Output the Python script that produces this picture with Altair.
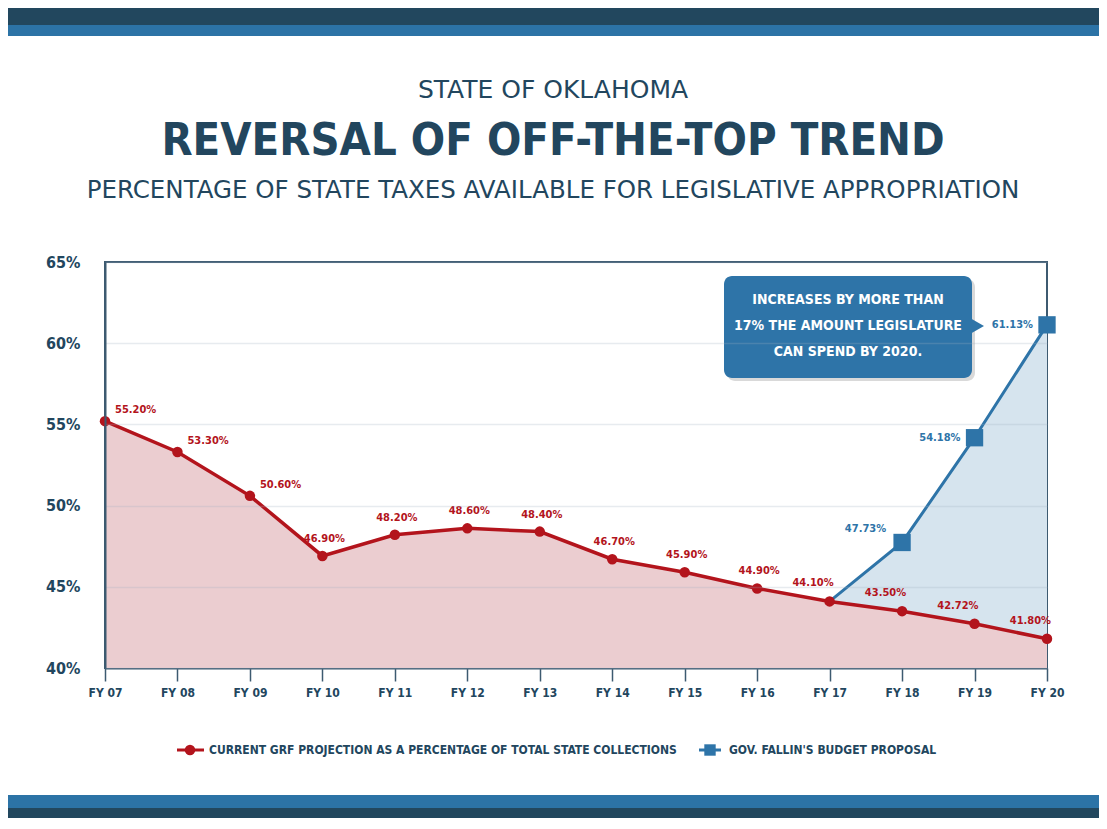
import altair as alt
import pandas as pd

# ---- data ----
years = ["FY 07", "FY 08", "FY 09", "FY 10", "FY 11", "FY 12", "FY 13",
         "FY 14", "FY 15", "FY 16", "FY 17", "FY 18", "FY 19", "FY 20"]
grf = [55.20, 53.30, 50.60, 46.90, 48.20, 48.60, 48.40,
       46.70, 45.90, 44.90, 44.10, 43.50, 42.72, 41.80]
gov_years = ["FY 17", "FY 18", "FY 19", "FY 20"]
gov = [44.10, 47.73, 54.18, 61.13]
y_ticks = [40, 45, 50, 55, 60, 65]

NAVY = "#22465e"
RED = "#b3141c"
BLUE = "#2e74a8"
PINK = "#ebcdd0"
LIGHTBLUE = "#d6e4ee"
COND = "DejaVu Sans Condensed, Liberation Sans Narrow, sans-serif"

W, H = 942, 406

df_grf = pd.DataFrame({"year": years, "value": grf, "idx": list(range(len(years)))})
df_grf["label"] = [f"{v:.2f}%" for v in grf]
df_gov = pd.DataFrame({"year": gov_years, "value": gov})
df_gov["label"] = [f"{v:.2f}%" for v in gov]
one = pd.DataFrame({"a": [0]})

xs = alt.Scale(type="point", domain=years, padding=0)
ys = alt.Scale(domain=[40, 65], nice=False, zero=False)

X = alt.X("year:N", scale=xs, sort=years,
          axis=alt.Axis(title=None, labelAngle=0, labelFont=COND, labelFontWeight="bold",
                        labelFontSize=12, labelColor=NAVY, labelPadding=6,
                        domainColor="#3d5a70", domainWidth=2, tickColor="#3d5a70",
                        tickSize=13, tickWidth=1.5, grid=False))
Y = alt.Y("value:Q", scale=ys,
          axis=alt.Axis(title=None, values=y_ticks, labelExpr="datum.value + '%'",
                        labelFont=COND, labelFontWeight="bold", labelFontSize=16,
                        labelColor=NAVY, labelPadding=25, ticks=False,
                        domainColor="#3d5a70", domainWidth=2,
                        grid=True, gridColor="#9fb0c0", gridOpacity=0.25, gridWidth=1.5,
                        zindex=1))

base_gov = alt.Chart(df_gov)
base_grf = alt.Chart(df_grf)

blue_area = base_gov.mark_area(color=LIGHTBLUE, opacity=1).encode(x=X, y=Y, y2=alt.datum(40))
red_area = base_grf.mark_area(color=PINK, opacity=1).encode(x=X, y=Y, y2=alt.datum(40))
blue_line = base_gov.mark_line(color=BLUE, strokeWidth=3).encode(x=X, y=Y)
red_line = base_grf.mark_line(color=RED, strokeWidth=3.5).encode(x=X, y=Y)
red_pts = base_grf.mark_circle(color=RED, size=110, opacity=1).encode(x=X, y=Y)
blue_pts = base_gov.transform_filter("datum.year != 'FY 17'").mark_square(
    color=BLUE, size=300, opacity=1).encode(x=X, y=Y)

lab_style = dict(font=COND, fontWeight="bold", fontSize=11, color=RED)
red_lab1 = base_grf.transform_filter("datum.idx <= 2").mark_text(
    align="left", dx=10, dy=-11, **lab_style).encode(x=X, y=Y, text="label:N")
red_lab2 = base_grf.transform_filter("datum.idx > 2 && datum.idx < 10").mark_text(
    align="center", dx=2, dy=-17, **lab_style).encode(x=X, y=Y, text="label:N")
red_lab3 = base_grf.transform_filter("datum.idx >= 10").mark_text(
    align="right", dx=4, dy=-18, **lab_style).encode(x=X, y=Y, text="label:N")
blab_style = dict(font=COND, fontWeight="bold", fontSize=11, color=BLUE, align="right")
blue_lab1 = base_gov.transform_filter("datum.year == 'FY 18'").mark_text(
    dx=-16, dy=-13, **blab_style).encode(x=X, y=Y, text="label:N")
blue_lab2 = base_gov.transform_filter("datum.year == 'FY 19' || datum.year == 'FY 20'").mark_text(
    dx=-14, dy=0, **blab_style).encode(x=X, y=Y, text="label:N")

# ---- decorations (pixel positions relative to plot area) ----
def band(x1, x2, y1, y2, color):
    return alt.Chart(one).mark_rect(color=color).encode(
        x=alt.value(x1), x2=alt.value(x2), y=alt.value(y1), y2=alt.value(y2))

bands = [
    band(-97, 994, -254, -237, "#22475e"),
    band(-97, 994, -237, -226, "#2c73a6"),
    band(-97, 994, 533, 546, "#2c73a6"),
    band(-97, 994, 546, 560, "#22475e"),
]

def txt(x, y, s, **kw):
    return alt.Chart(one).mark_text(text=s, **kw).encode(x=alt.value(x), y=alt.value(y))

t1 = txt(448, -172, "STATE OF OKLAHOMA", font="DejaVu Sans", fontSize=25, color=NAVY,
         align="center", baseline="middle")
t2 = txt(448, -121, "REVERSAL OF OFF-THE-TOP TREND", font=COND, fontWeight="bold",
         fontSize=45, color=NAVY, align="center", baseline="middle")
t3 = txt(448, -71, "PERCENTAGE OF STATE TAXES AVAILABLE FOR LEGISLATIVE APPROPRIATION",
         font="DejaVu Sans", fontSize=24.5, color=NAVY, align="center", baseline="middle")

shadow = alt.Chart(one).mark_rect(color="#000000", opacity=0.15, cornerRadius=8).encode(
    x=alt.value(622), x2=alt.value(870), y=alt.value(17), y2=alt.value(119))
box = alt.Chart(one).mark_rect(color=BLUE, cornerRadius=8).encode(
    x=alt.value(619), x2=alt.value(867), y=alt.value(14), y2=alt.value(116))
arrow = alt.Chart(one).mark_point(shape="triangle-right", filled=True, color=BLUE,
                                  size=260, opacity=1).encode(x=alt.value(872), y=alt.value(64))
box_txt = txt(743, 38, ["INCREASES BY MORE THAN", "17% THE AMOUNT LEGISLATURE",
                        "CAN SPEND BY 2020."],
              font=COND, fontWeight="bold", fontSize=14, color="white",
              align="center", baseline="middle", lineHeight=26)

# legend
leg = [
    alt.Chart(one).mark_rule(color=RED, strokeWidth=3).encode(
        x=alt.value(72), x2=alt.value(99), y=alt.value(488)),
    alt.Chart(one).mark_circle(color=RED, size=110, opacity=1).encode(
        x=alt.value(85), y=alt.value(488)),
    txt(104, 488, "CURRENT GRF PROJECTION AS A PERCENTAGE OF TOTAL STATE COLLECTIONS",
        font=COND, fontWeight="bold", fontSize=12, color=NAVY, align="left", baseline="middle"),
    alt.Chart(one).mark_rule(color=BLUE, strokeWidth=3).encode(
        x=alt.value(594), x2=alt.value(616), y=alt.value(488)),
    alt.Chart(one).mark_square(color=BLUE, size=130, opacity=1).encode(
        x=alt.value(605), y=alt.value(488)),
    txt(624, 488, "GOV. FALLIN'S BUDGET PROPOSAL",
        font=COND, fontWeight="bold", fontSize=12, color=NAVY, align="left", baseline="middle"),
]

chart = alt.layer(
    blue_area, red_area, blue_line, red_line, red_pts, blue_pts,
    red_lab1, red_lab2, red_lab3, blue_lab1, blue_lab2,
    *bands, t1, t2, t3, shadow, box, arrow, box_txt, *leg
).properties(
    width=W, height=H,
    autosize=alt.AutoSizeParams(type="none"),
    padding={"left": 97, "top": 254, "right": 52, "bottom": 150},
    background="white",
).configure_view(stroke="#3d5a70", strokeWidth=2)

chart.save("out.html", embed_options={"renderer": "svg", "actions": False})
